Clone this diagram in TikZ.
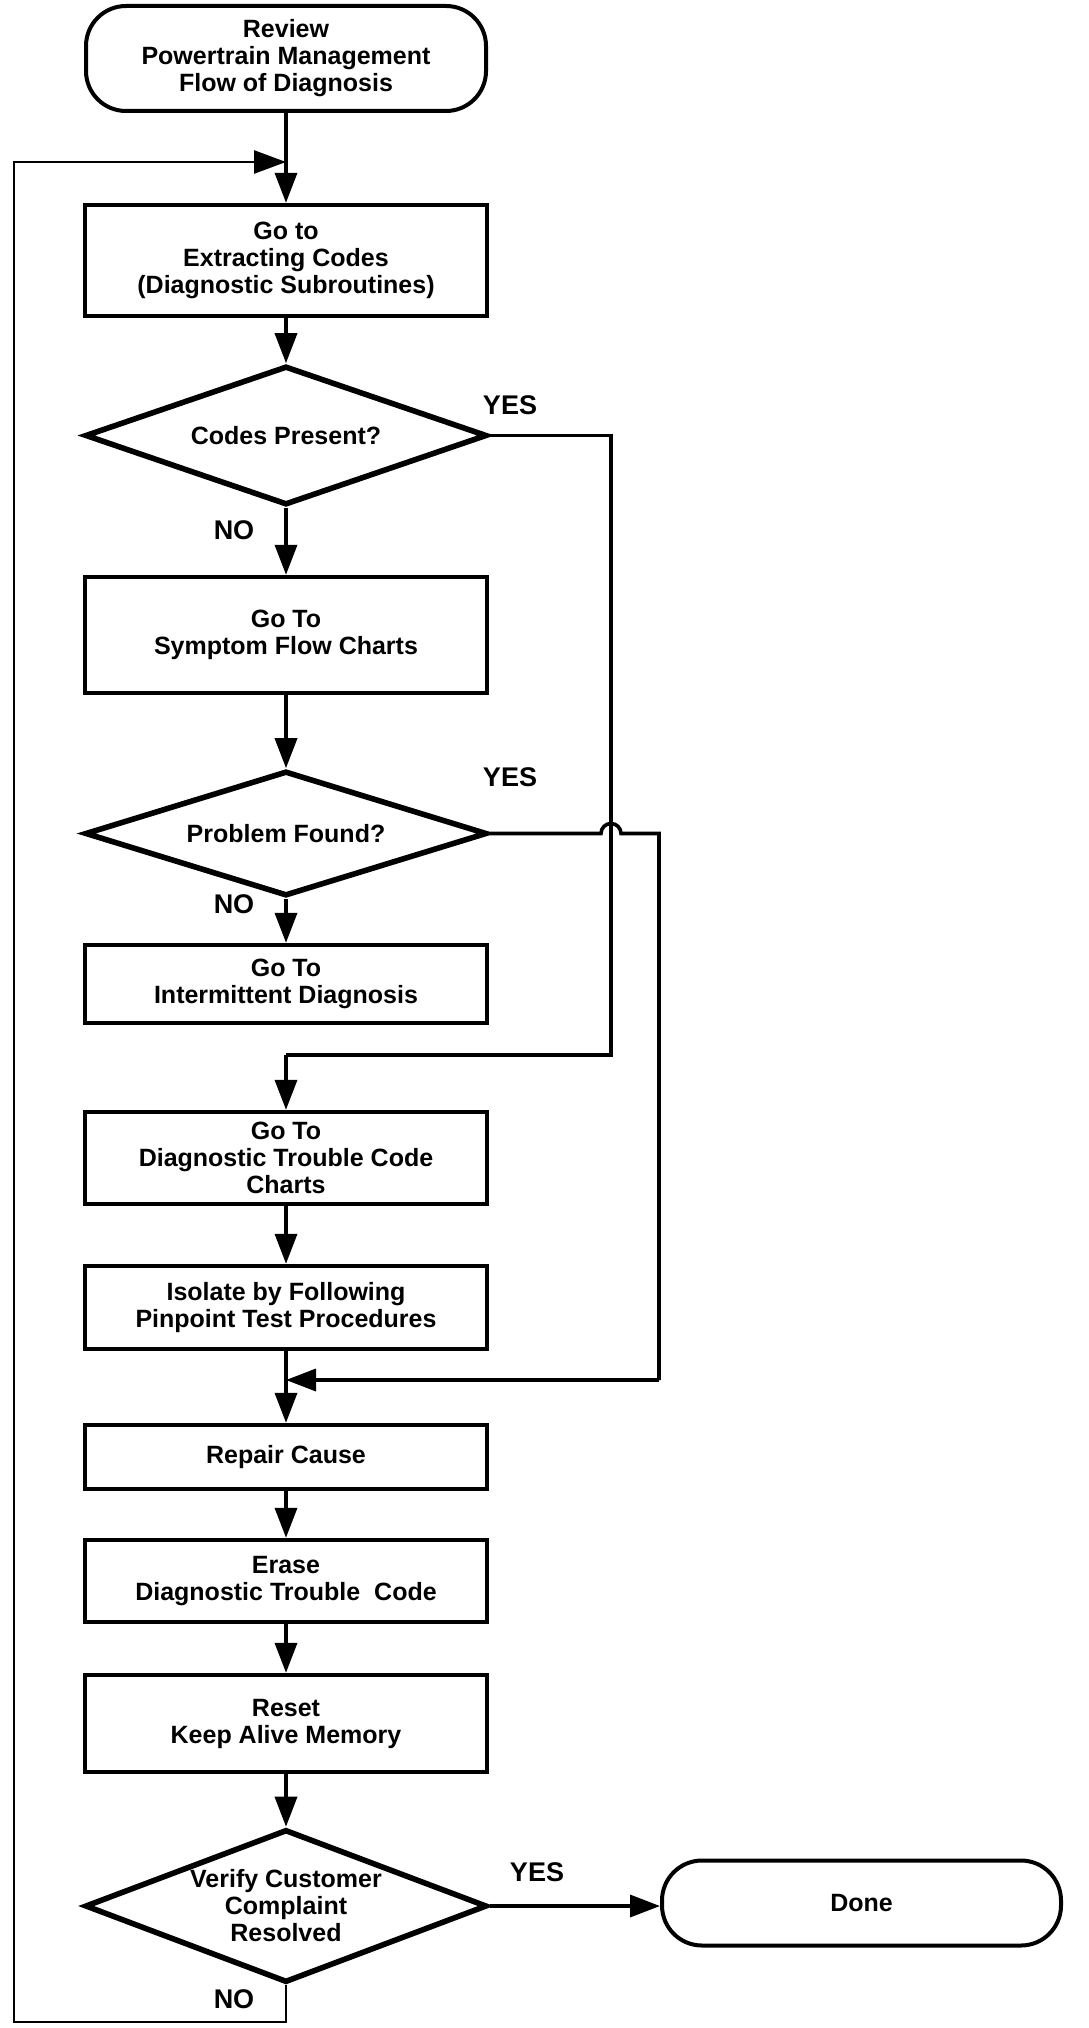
\documentclass[tikz,border=0pt]{standalone}
\usepackage{fontspec}
\setmainfont{Liberation Sans}
\usetikzlibrary{shapes.geometric,arrows.meta}
\tikzset{
  boxtxt/.style={font=\bfseries\fontsize{12.5}{13.5}\selectfont, align=center},
  procbox/.style={boxtxt, draw, line width=2.2pt, rectangle, minimum width=201pt, inner sep=0pt},
  decbox/.style={boxtxt, draw, line width=2.8pt, diamond, minimum width=201pt, inner sep=0pt},
  termbox/.style={boxtxt, draw, line width=2pt, rectangle, rounded corners=20pt, minimum width=200pt, inner sep=0pt},
  lbl/.style={font=\bfseries\fontsize{13.5}{14}\selectfont, inner sep=0pt},
  conn/.style={line width=1.8pt},
  loopline/.style={line width=1.4pt},
  arr/.style={conn, -{Triangle[length=15pt,width=11pt]}},
  looparr/.style={loopline, -{Triangle[length=16pt,width=11.5pt]}}
}
\begin{document}
\begin{tikzpicture}[x=0.5pt,y=-0.5pt]
\useasboundingbox (0,0) rectangle (1088,2028);
% nodes
\node[termbox, minimum height=52.5pt] (start) at (286,58.5) {Review\\Powertrain Management\\Flow of Diagnosis};
\node[procbox, minimum height=55.5pt] (b1) at (286,260.5) {Go to\\Extracting Codes\\(Diagnostic Subroutines)};
\node[decbox, shape aspect=2.9, minimum height=69.5pt] (d1) at (286,435.5) {Codes Present?};
\node[procbox, minimum height=58pt] (b2) at (286,635) {Go To\\Symptom Flow Charts};
\node[decbox, shape aspect=3.2, minimum height=62.5pt] (d2) at (286,833.5) {Problem Found?};
\node[procbox, minimum height=39pt] (b3) at (286,984) {Go To\\Intermittent Diagnosis};
\node[procbox, minimum height=46pt] (b4) at (286,1158) {Go To\\Diagnostic Trouble Code\\Charts};
\node[procbox, minimum height=41.5pt] (b5) at (286,1307.5) {Isolate by Following\\Pinpoint Test Procedures};
\node[procbox, minimum height=32pt] (b6) at (286,1457) {Repair Cause};
\node[procbox, minimum height=41pt] (b7) at (286,1581) {Erase\\Diagnostic Trouble\ \ Code};
\node[procbox, minimum height=48.5pt] (b8) at (286,1723.5) {Reset\\Keep Alive Memory};
\node[decbox, shape aspect=2.63, minimum height=76.5pt] (d3) at (286,1906) {Verify Customer\\Complaint\\Resolved};
\node[termbox, minimum width=199.5pt, minimum height=42.5pt] (done) at (861.5,1903) {Done};
% coordinates
\coordinate (loopin) at (286,162);
\coordinate (lb) at (14,2022);
\coordinate (lt) at (14,162);
\coordinate (j1) at (611,1055);
\coordinate (j1b) at (286,1055);
\coordinate (hop) at (601,833.5);
\coordinate (j2) at (659,1380);
\coordinate (merge) at (286,1380);
% labels
\node[lbl] (y1) at (510,405) {YES};
\node[lbl] (n1) at (234,530) {NO};
\node[lbl] (y2) at (510,777) {YES};
\node[lbl] (n2) at (234,904) {NO};
\node[lbl] (y3) at (537,1872) {YES};
\node[lbl] (n3) at (234,1999) {NO};
% main flow
\draw[arr] (start) -- (b1);
\draw[arr] (b1) -- (d1);
\draw[arr] (d1) -- (b2);
\draw[arr] (b2) -- (d2);
\draw[arr] (d2) -- (b3);
\draw[arr] (b4) -- (b5);
\draw[arr] (b5) -- (b6);
\draw[arr] (b6) -- (b7);
\draw[arr] (b7) -- (b8);
\draw[arr] (b8) -- (d3);
\draw[arr] (d3.east) -- (d3.east -| done.west);
% YES from codes present
\draw[conn] (d1.east) -| (j1) -- (j1b);
\draw[arr] (j1b) -- (b4);
% YES from problem found, with hop
\draw[conn] (d2.east) -- (hop) arc[start angle=180, end angle=0, radius=5pt] -- (d2.east -| j2) -- (j2);
\draw[arr] (j2) -- (merge);
% loop back
\draw[looparr] (d3.south) |- (lb) -- (lt) -- (loopin);
\end{tikzpicture}
\end{document}
